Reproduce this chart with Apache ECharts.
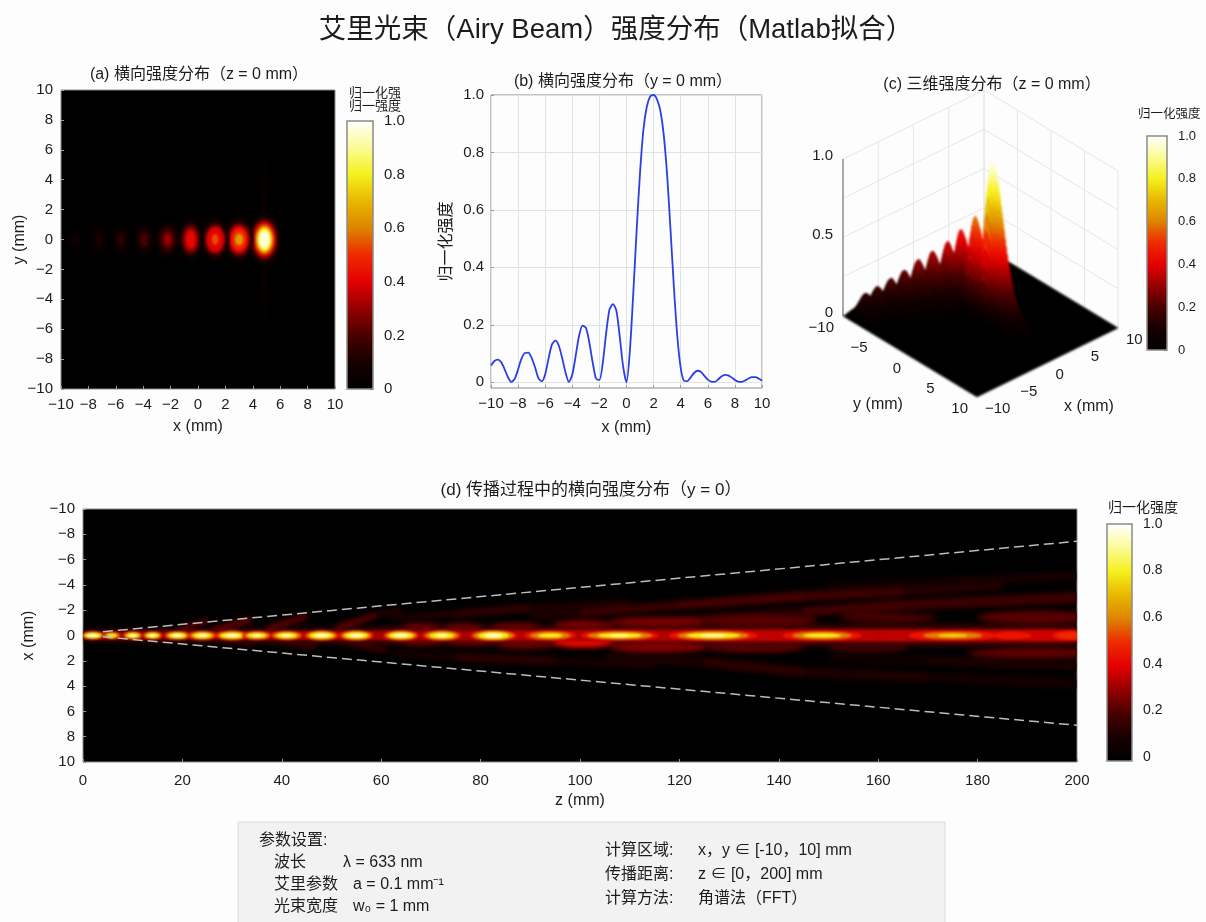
<!DOCTYPE html>
<html><head><meta charset="utf-8">
<style>
html,body{margin:0;padding:0;background:#fdfdfd}
#c{width:1206px;height:922px}
canvas[data-zr-dom-id="zr_1"]{filter:blur(2.5px);clip-path:path('M83 509H1077V762H83Z')}
canvas[data-zr-dom-id="zr_2"]{filter:blur(1.2px);clip-path:path('M61 90H335V389H61Z M83 509H1077V762H83Z M800 90H1140V410H800Z')}
</style>
<script src="https://cdn.jsdelivr.net/npm/echarts@6/dist/echarts.min.js"></script>
</head><body><div id="c"></div>
<script>
// ---------- text ----------
const mainTitle='艾里光束（Airy Beam）强度分布（Matlab拟合）';
const titleA='(a) 横向强度分布（z = 0 mm）';
const titleB='(b) 横向强度分布（y = 0 mm）';
const titleC='(c) 三维强度分布（z = 0 mm）';
const titleD='(d) 传播过程中的横向强度分布（y = 0）';
const intensityName='归一化强度';
// ---------- colour scale ----------
const heatStops=['#000000','#170000','#480000','#960000','#e40000','#ef2a00','#dd8400','#e8b800','#f5f01e','#fbfb96','#ffffff'];
const barTicks=[0,0.2,0.4,0.6,0.8,1];
// ---------- (a) contours of each spot: x, [[level, rx, ry]...] ----------
const aSpots=[
[4.85,[[0.025,0.25,6.5],[0.05,1.18,1.8],[0.15,1.04,1.5],[0.3,0.9,1.28],[0.45,0.77,1.1],[0.6,0.65,0.95],[0.8,0.52,0.78],[0.97,0.38,0.6]]],
[3.0,[[0.02,0.25,3.5],[0.05,1.08,1.6],[0.15,0.93,1.26],[0.3,0.78,1.02],[0.4,0.67,0.88],[0.5,0.53,0.7],[0.64,0.3,0.38]]],
[1.25,[[0.05,1.03,1.5],[0.15,0.88,1.18],[0.3,0.72,0.96],[0.4,0.6,0.8],[0.54,0.24,0.36]]],
[-0.53,[[0.03,0.98,1.5],[0.1,0.83,1.22],[0.2,0.68,1.02],[0.3,0.54,0.84],[0.42,0.35,0.6]]],
[-2.22,[[0.05,0.83,1.25],[0.12,0.67,0.96],[0.2,0.5,0.7],[0.3,0.28,0.38]]],
[-3.93,[[0.04,0.75,1.15],[0.1,0.54,0.8],[0.19,0.32,0.46]]],
[-5.63,[[0.03,0.7,1.12],[0.08,0.48,0.74],[0.14,0.27,0.38]]],
[-7.25,[[0.025,0.66,1.12],[0.06,0.44,0.72],[0.1,0.24,0.35]]],
[-8.95,[[0.03,0.44,0.78],[0.06,0.24,0.38]]]];
// ---------- (b) profile at y = 0 ----------
const bX=[-10,-9.75,-9.5,-9.25,-9,-8.75,-8.5,-8.25,-8,-7.75,-7.5,-7.25,-7,-6.75,-6.5,-6.25,-6,-5.75,-5.5,-5.25,-5,-4.75,-4.5,-4.25,-4,-3.75,-3.5,-3.25,-3,-2.75,-2.5,-2.25,-2,-1.75,-1.5,-1.25,-1,-0.75,-0.5,-0.25,0,0.25,0.5,0.75,1,1.25,1.5,1.75,2,2.25,2.5,2.75,3,3.25,3.5,3.75,4,4.25,4.5,4.75,5,5.25,5.5,5.75,6,6.25,6.5,6.75,7,7.25,7.5,7.75,8,8.25,8.5,8.75,9,9.25,9.5,9.75,10];
const bI=[0.058,0.074,0.079,0.07,0.046,0.018,0.001,0.012,0.045,0.082,0.102,0.103,0.085,0.052,0.014,0.003,0.028,0.083,0.132,0.145,0.128,0.085,0.034,0.001,0.027,0.092,0.162,0.197,0.19,0.14,0.07,0.013,0.008,0.067,0.172,0.254,0.272,0.25,0.16,0.055,0,0.11,0.31,0.53,0.73,0.88,0.96,0.995,1,0.985,0.945,0.86,0.72,0.53,0.33,0.16,0.05,0.005,0.004,0.018,0.033,0.04,0.036,0.022,0.009,0.002,0.001,0.009,0.02,0.026,0.024,0.017,0.008,0.002,0.001,0.006,0.013,0.018,0.018,0.013,0.005];
// ---------- (c) ridges read from the surface ----------
const cRidgeX=[1.6,1,1,0,-1.4,-2.8,-4.2,-5.6,-7,-8.4];
const cRidgeY=[0.15,-1.8,-3.92,-4.85,-5.62,-6.28,-6.9,-7.42,-7.93,-8.2];
const cRidgeZ=[1,0.61,0.47,0.39,0.34,0.3,0.245,0.21,0.174,0.155];
const cRidgeWide=[1.25,1,1,1,1,1,1,1,1,1];
const cPeakD=[0,0.5,1,1.5,2.5,4,6,9,14];
const cPeakF=[1,0.9,0.72,0.52,0.25,0.08,0.03,0.012,0];
const cFinD=[0,0.5,1,1.5,2.5,4,6,9];
const cFinF=[1,0.9,0.68,0.46,0.2,0.07,0.02,0];
const cBackD=[0,0.25,0.5,1,1.5,2,2.5];
const cBackF=[1,0.96,0.82,0.46,0.16,0.03,0];
const cCrossD=[0,0.2,0.4,0.6,0.9,1.2,1.5,1.8];
const cCrossF=[1,0.96,0.85,0.68,0.38,0.15,0.04,0];
const cXTicks=[-10,-5,0,5,10];
const cYTicks=[-10,-5,0,5,10];
const cZTicks=[0,0.5,1];
const cZGrid=[0,0.25,0.5,0.75,1];
// ---------- (d) guide lines: z, x ----------
const dGuideTop=[[4,-0.3],[200,-7.45]];
const dGuideBottom=[[4,0.1],[200,7.1]];
// (d) axis spots: z, x, [[level, halfLen, halfWidth]...]
const dSpots=[
[2,0,[[0.45,2.2,0.33],[0.6,2,0.29],[0.8,1.7,0.22],[0.95,1.2,0.13]]],
[5.8,0,[[0.45,1.8,0.3],[0.6,1.5,0.25],[0.8,1,0.16]]],
[10,0,[[0.45,2,0.33],[0.6,1.7,0.28],[0.8,1.3,0.2],[0.95,0.7,0.1]]],
[14,0,[[0.45,2,0.33],[0.6,1.7,0.28],[0.8,1.3,0.2],[0.95,0.7,0.1]]],
[19,0,[[0.45,2.7,0.36],[0.6,2.3,0.3],[0.8,1.8,0.22],[0.95,1.1,0.12]]],
[24,0,[[0.45,3,0.38],[0.6,2.5,0.32],[0.8,1.9,0.22],[0.95,1,0.11]]],
[30,0,[[0.45,3.4,0.4],[0.6,2.9,0.33],[0.8,2.4,0.24],[0.95,1.4,0.12]]],
[35,0,[[0.45,3,0.38],[0.6,2.5,0.3],[0.8,1.9,0.2],[0.95,0.9,0.1]]],
[41,0,[[0.45,3.3,0.38],[0.6,2.8,0.32],[0.8,2.1,0.22],[0.95,1.1,0.1]]],
[48,0,[[0.45,3.5,0.42],[0.6,3,0.35],[0.8,2.4,0.25],[0.95,1.5,0.13]]],
[55,0,[[0.45,3.5,0.42],[0.6,3,0.35],[0.8,2.4,0.25],[0.95,1.4,0.13]]],
[64,0,[[0.45,3.6,0.42],[0.6,3.1,0.35],[0.8,2.5,0.25],[0.95,1.5,0.13]]],
[72.2,0,[[0.45,4,0.42],[0.6,3.3,0.35],[0.8,2.5,0.24],[0.95,1.2,0.1]]],
[82.6,0,[[0.45,4.8,0.44],[0.6,4.1,0.38],[0.8,3.1,0.28],[0.95,1.8,0.16]]],
[94,0,[[0.45,5.2,0.4],[0.6,4.1,0.3],[0.8,2.5,0.17]]],
[108,0,[[0.45,7.8,0.4],[0.6,6.5,0.31],[0.8,4.5,0.2],[0.9,2,0.1]]],
[126.8,0,[[0.45,9,0.42],[0.6,7.2,0.34],[0.8,5.5,0.22],[0.95,2.5,0.09]]],
[148.7,0,[[0.45,8,0.4],[0.6,6,0.3],[0.8,3.8,0.17]]],
[175,0,[[0.45,9,0.4],[0.6,6,0.27],[0.75,3,0.13]]],
[187,0,[[0.45,4,0.32]]],
[199,0,[[0.45,4,0.38],[0.5,3,0.26]]]];
// (d) continuous core along the axis: z, x, halfWidth, value
const dCore=[[0,0,0.3,0.28],[40,0,0.34,0.3],[80,0,0.4,0.33],[100,0,0.44,0.35],[130,0,0.46,0.32],[160,0,0.46,0.38],[190,0,0.46,0.32],[200,0,0.46,0.42]];
// (d) soft blobs beside the beam: z, x, halfLen, halfWidth, value
const dBlobs=[[68,-0.7,4,0.28,0.24],[76.5,-0.7,4,0.28,0.24],[87,-0.75,5,0.28,0.24],[100.7,-0.9,6,0.33,0.26],[116,-1.1,10,0.38,0.26],[136,-1.2,12,0.42,0.22],[162,-1.4,10,0.38,0.2],[192,-1.45,12,0.5,0.22],[68,0.55,4,0.28,0.24],[78,0.55,5,0.28,0.24],[89,0.75,6,0.33,0.24],[100.5,0.55,6,0.42,0.42],[116,0.95,10,0.38,0.28],[135,0.95,10,0.42,0.22],[158,1,8,0.33,0.18],[192,1.4,14,0.4,0.23]];
// (d) faint streaks: nodes z, x, halfWidth, value
const dStreaks=[
[[0,0,0.5,0.1],[60,0,0.72,0.18],[120,0,0.85,0.18],[200,0,0.85,0.18]],
[[62,-1.4,0.22,0.07],[75,-1.7,0.28,0.17],[90,-2.2,0.28,0.15],[110,-2.6,0.28,0.07]],
[[90,-1.5,0.28,0.07],[100,-1.75,0.28,0.16],[120,-2.4,0.33,0.19],[145,-3.1,0.38,0.2],[165,-3.5,0.38,0.16],[185,-4,0.33,0.1]],
[[120,-1.3,0.28,0.08],[145,-1.9,0.33,0.19],[165,-2.4,0.38,0.19],[200,-3,0.42,0.16]],
[[150,-3.9,0.32,0.05],[175,-4.3,0.32,0.1],[200,-4.7,0.32,0.1]],
[[62,1.4,0.22,0.05],[75,1.7,0.33,0.15],[95,2,0.33,0.13],[115,2.4,0.33,0.05]],
[[105,1.7,0.33,0.07],[125,2.1,0.38,0.15],[145,2.9,0.38,0.13],[170,3.3,0.38,0.1],[200,3.8,0.38,0.07]],
[[150,1.8,0.33,0.05],[170,2,0.33,0.1],[200,2.4,0.33,0.12]],
[[19.5,-0.5,0.2,0.3],[25,-1.2,0.17,0.16]],
[[26,-0.4,0.22,0.32],[34,-1.3,0.18,0.16]],
[[37,-0.53,0.24,0.3],[45,-1.5,0.2,0.16]],
[[51,-0.6,0.24,0.3],[59,-1.6,0.2,0.16],[64,-2.1,0.18,0.1]],
[[26,0.3,0.2,0.2],[34,0.72,0.17,0.11]],
[[37,0.35,0.22,0.22],[47,0.93,0.18,0.13]],
[[51,0.35,0.24,0.22],[61,1.2,0.2,0.13]]];
// ---------- (e) parameter box ----------
const paramHead='参数设置:';
const paramNames=['波长','艾里参数','光束宽度'];
const paramVals=['λ = 633 nm','a = 0.1 mm⁻¹','w₀ = 1 mm'];
const calcNames=['计算区域:','传播距离:','计算方法:'];
const calcVals=['x，y ∈ [-10，10] mm','z ∈ [0，200] mm','角谱法（FFT）'];

// ---------- helpers ----------
const FONT='"Liberation Sans","Noto Sans CJK SC",sans-serif';
const INK='#1c1c1c';
const fmt=v=>String(v).replace('-','−');
const barFmt=v=>v===0?'0':v.toFixed(1);
function look(ds,fs,d){for(let i=1;i<ds.length;i++){if(d<=ds[i]){const t=(d-ds[i-1])/(ds[i]-ds[i-1]);return fs[i-1]+t*(fs[i]-fs[i-1]);}}return 0;}
function ellipseItem(p,api){const c=api.coord([api.value(1),api.value(2)]),s=api.size([api.value(3),api.value(4)]);
  return {type:'ellipse',shape:{cx:c[0],cy:c[1],rx:s[0],ry:s[1]},style:{fill:api.visual('color')}};}
function ribbonItem(p,api){const a=api.coord([api.value(1),api.value(2)-api.value(3)]),b=api.coord([api.value(4),api.value(5)-api.value(6)]),
  c=api.coord([api.value(4),api.value(5)+api.value(6)]),d=api.coord([api.value(1),api.value(2)+api.value(3)]);
  const col=api.visual('color');return {type:'polygon',shape:{points:[a,b,c,d]},style:{fill:col,stroke:col,lineWidth:0.5}};}
const spotRows=s=>s.flatMap(r=>r[r.length-1].map(l=>[l[0],r[0],r.length===3?r[1]:0,l[1],l[2]]));
const ribbonRows=ps=>ps.flatMap(p=>p.slice(1).map((n,i)=>[(p[i][3]+n[3])/2,p[i][0],p[i][1],p[i][2],n[0],n[1],n[2]]));
// (c) oblique projection of the box onto its plot plane
function project(x,y,z){return [(x+10)*7.05+(y+10)*6.7,223-(x+10)*3.45+(y+10)*4.05-z*157];}
function cHeight(x,y){let m=0;cRidgeX.forEach((rx,i)=>{const dy=y-cRidgeY[i];
  const along=dy>=0?(i<2?look(cPeakD,cPeakF,dy):look(cFinD,cFinF,dy)):look(cBackD,cBackF,-dy);
  const v=cRidgeZ[i]*along*look(cCrossD,cCrossF,Math.abs(x-rx)/cRidgeWide[i]);if(v>m)m=v;});return m;}
const cells=[[0,-10,-10,20,20,0,0,0,0]];
(function(){const n=140,st=20/n,tmp=[];
  for(let i=0;i<n;i++)for(let j=0;j<n;j++){const x=-10+i*st,y=-10+j*st,a=cHeight(x,y),b=cHeight(x+st,y),c=cHeight(x+st,y+st),d=cHeight(x,y+st);
    const avg=(a+b+c+d)/4;if(avg>0.003)tmp.push([avg,x,y,st,st,a,b,c,d]);}
  tmp.sort((p,q)=>(p[2]-p[1])-(q[2]-q[1]));tmp.forEach(r=>cells.push(r));})();
function cellItem(p,api){const x=api.value(1),y=api.value(2),w=api.value(3),h=api.value(4);
  const pts=[[x,y,api.value(5)],[x+w,y,api.value(6)],[x+w,y+h,api.value(7)],[x,y+h,api.value(8)]].map(q=>api.coord(project(q[0],q[1],q[2])));
  const col=api.visual('color');return {type:'polygon',shape:{points:pts},style:{fill:col,stroke:col,lineWidth:0.5}};}
// (c) walls and axis lines: x1,y1,z1,x2,y2,z2
const wallRows=[];
cZGrid.forEach(z=>{wallRows.push([-10,-10,z,10,-10,z]);wallRows.push([10,-10,z,10,10,z]);});
cXTicks.forEach(x=>wallRows.push([x,-10,0,x,-10,1]));
cYTicks.forEach(y=>wallRows.push([10,y,0,10,y,1]));
function wallItem(p,api){const a=api.coord(project(api.value(0),api.value(1),api.value(2))),b=api.coord(project(api.value(3),api.value(4),api.value(5)));
  return {type:'line',shape:{x1:a[0],y1:a[1],x2:b[0],y2:b[1]},style:{stroke:'#e6e6e6',lineWidth:1}};}
const frameRows=[[-10,-10,0,-10,-10,1]];
function frameItem(p,api){const a=api.coord(project(api.value(0),api.value(1),api.value(2))),b=api.coord(project(api.value(3),api.value(4),api.value(5)));
  return {type:'line',shape:{x1:a[0],y1:a[1],x2:b[0],y2:b[1]},style:{stroke:'#777',lineWidth:1.2}};}
const cLabels=[];
cYTicks.forEach(y=>cLabels.push({t:fmt(y),p:[-10,y,0],ox:-9,oy:12,al:'right'}));
cXTicks.forEach(x=>cLabels.push({t:fmt(x),p:[x,10,0],ox:8,oy:12,al:'left'}));
cZTicks.forEach(z=>cLabels.push({t:z===1?'1.0':String(z),p:[-10,-10,z],ox:-10,oy:-3,al:'right'}));
function cLabelItem(p,api){const l=cLabels[api.value(0)],c=api.coord(project(l.p[0],l.p[1],l.p[2]));
  return {type:'text',x:c[0]+l.ox,y:c[1]+l.oy,style:{text:l.t,fill:INK,font:'15px '+FONT,textAlign:l.al,textVerticalAlign:'middle'}};}

const tickLabel={color:INK,fontSize:15,fontFamily:FONT};
const nameStyle={color:INK,fontSize:16,fontFamily:FONT};
const inTick={show:true,inside:true,length:3,lineStyle:{color:'#999'}};
function plotAxis(o){return Object.assign({type:'value',axisLine:{show:false,onZero:false},axisTick:inTick,splitLine:{show:false},axisLabel:Object.assign({margin:8,formatter:fmt,hideOverlap:false,showMinLabel:true,showMaxLabel:true},tickLabel),nameLocation:'middle',nameMoveOverlap:false,nameTextStyle:nameStyle},o);}
function hidden(i,min,max,extra){return Object.assign({type:'value',gridIndex:i,show:false,min:min,max:max},extra||{});}
function barAxis(i,size,margin,opts){return Object.assign({type:'value',gridIndex:i,position:'right',min:0,max:1,axisLine:{show:false,onZero:false},
  axisTick:{show:true,inside:true,length:3,lineStyle:{color:'#444'},customValues:barTicks},splitLine:{show:false},
  axisLabel:{color:INK,fontSize:size,fontFamily:FONT,margin:margin,customValues:barTicks,formatter:barFmt}},opts||{});}
const bStyle={show:true,borderColor:'#8a8a8a',borderWidth:1,backgroundColor:'#000'};
function barGrid(l,t,w,h){return {left:l,top:t,width:w,height:h,show:true,borderColor:'#8a8a8a',borderWidth:1.5,backgroundColor:'transparent',zlevel:3,z:6};}
function vm(series,l,t,w,h){return {type:'continuous',seriesIndex:series,dimension:0,min:0,max:1,left:l,top:t,itemWidth:w,itemHeight:h,padding:0,text:null,calculable:false,hoverLink:false,inRange:{color:heatStops},z:4};}
function sub(text,center,top,size){return {text:text,left:center,top:top,textAlign:'center',padding:0,textStyle:{fontSize:size||16,fontWeight:'normal',color:INK,fontFamily:FONT}};}
function tx(text,x,y,size,extra){return Object.assign({type:'text',x:x,y:y,silent:true,style:Object.assign({text:text,fill:INK,font:size+'px '+FONT,textVerticalAlign:'middle'},extra||{})});}

const boxTexts=[tx(paramHead,259,841,16)];
paramNames.forEach((n,i)=>{boxTexts.push(tx(n,274,863+22*i,16));boxTexts.push(tx(paramVals[i],i===0?343:353,863+22*i,16));});
calcNames.forEach((n,i)=>{boxTexts.push(tx(n,605,851+24*i,16));boxTexts.push(tx(calcVals[i],698,851+24*i,16));});

const option={
  animation:false,backgroundColor:'#fdfdfd',textStyle:{fontFamily:FONT},
  title:[{text:mainTitle,left:616,top:17,textAlign:'center',padding:0,textStyle:{fontSize:27.5,fontWeight:'normal',color:INK,fontFamily:FONT}},
    sub(titleA,199,67),sub(titleB,623,74),sub(titleC,992,77),sub(titleD,591,482,17)],
  grid:[
    Object.assign({left:61,top:90,width:274,height:299},bStyle),
    {left:491,top:95,width:271,height:293,show:true,borderColor:'#8a8a8a',borderWidth:1,backgroundColor:'transparent'},
    {left:843,top:88,width:275,height:309},
    Object.assign({left:83,top:509,width:994,height:253},bStyle),
    barGrid(347,121,26,268),barGrid(1147,136,20,214),barGrid(1107,524,25,237)],
  xAxis:[
    plotAxis({gridIndex:0,min:-10,max:10,interval:2,name:'x (mm)',nameGap:30}),
    plotAxis({gridIndex:1,min:-10,max:10,interval:2,name:'x (mm)',nameGap:32,splitLine:{show:true,lineStyle:{color:'#e2e2e2'}}}),
    hidden(2,0,275),
    plotAxis({gridIndex:3,min:0,max:200,interval:20,name:'z (mm)',nameGap:31,axisLabel:Object.assign({margin:11,formatter:fmt,showMinLabel:true,showMaxLabel:true},tickLabel)}),
    hidden(4,0,1),hidden(5,0,1),hidden(6,0,1)],
  yAxis:[
    plotAxis({gridIndex:0,min:-10,max:10,interval:2,name:'y (mm)',nameGap:33}),
    plotAxis({gridIndex:1,min:-0.02,max:1,name:intensityName,nameGap:36,
      axisTick:Object.assign({},inTick,{customValues:[0,0.2,0.4,0.6,0.8,1]}),
      splitLine:{show:true,lineStyle:{color:'#e2e2e2'}},
      axisLabel:Object.assign({margin:7,customValues:[0,0.2,0.4,0.6,0.8,1],formatter:barFmt},tickLabel)}),
    hidden(2,-5,304,{inverse:true}),
    plotAxis({gridIndex:3,min:-10,max:10,interval:2,inverse:true,name:'x (mm)',nameGap:46}),
    barAxis(4,15,11),barAxis(5,13,11),
    barAxis(6,14,11,{min:-0.017,max:1})],
  visualMap:[vm([0],347,121,26,268),vm([4],1147,136,20,214),vm([6,7,8,9],1107,524,25,237)],
  series:[
    {type:'custom',name:'(a)',xAxisIndex:0,yAxisIndex:0,coordinateSystem:'cartesian2d',zlevel:2,silent:true,clip:false,progressive:0,encode:{x:1,y:2},renderItem:ellipseItem,
      data:spotRows(aSpots.map(s=>[s[0],0,s[1]]))},
    {type:'line',name:'(b)',xAxisIndex:1,yAxisIndex:1,data:bX.map((x,i)=>[x,bI[i]]),symbol:'none',smooth:0.25,silent:true,lineStyle:{color:'#2a3fe6',width:1.8}},
    {type:'custom',name:'walls',xAxisIndex:2,yAxisIndex:2,coordinateSystem:'cartesian2d',silent:true,clip:false,renderItem:wallItem,data:wallRows,encode:{x:0,y:1}},
    {type:'custom',name:'frame',xAxisIndex:2,yAxisIndex:2,coordinateSystem:'cartesian2d',silent:true,clip:false,renderItem:frameItem,data:frameRows,encode:{x:0,y:1}},
    {type:'custom',name:'(c)',xAxisIndex:2,yAxisIndex:2,coordinateSystem:'cartesian2d',zlevel:2,silent:true,clip:false,progressive:0,renderItem:cellItem,data:cells,encode:{x:1,y:2}},
    {type:'custom',name:'c labels',xAxisIndex:2,yAxisIndex:2,coordinateSystem:'cartesian2d',silent:true,clip:false,renderItem:cLabelItem,data:cLabels.map((l,i)=>[i]),encode:{x:0}},
    {type:'custom',name:'(d) streaks',xAxisIndex:3,yAxisIndex:3,coordinateSystem:'cartesian2d',zlevel:1,silent:true,clip:false,progressive:0,renderItem:ribbonItem,data:ribbonRows(dStreaks),encode:{x:1,y:2}},
    {type:'custom',name:'(d) blobs',xAxisIndex:3,yAxisIndex:3,coordinateSystem:'cartesian2d',zlevel:1,silent:true,clip:false,progressive:0,renderItem:ellipseItem,data:dBlobs.map(b=>[b[4],b[0],b[1],b[2],b[3]]),encode:{x:1,y:2}},
    {type:'custom',name:'(d) core',xAxisIndex:3,yAxisIndex:3,coordinateSystem:'cartesian2d',zlevel:2,silent:true,clip:false,progressive:0,renderItem:ribbonItem,data:ribbonRows([dCore]),encode:{x:1,y:2}},
    {type:'custom',name:'(d) spots',xAxisIndex:3,yAxisIndex:3,coordinateSystem:'cartesian2d',zlevel:2,silent:true,clip:false,progressive:0,renderItem:ellipseItem,data:spotRows(dSpots),encode:{x:1,y:2}},
    {type:'line',name:'guide top',xAxisIndex:3,yAxisIndex:3,zlevel:3,data:dGuideTop,symbol:'none',silent:true,lineStyle:{color:'#bdbdbd',width:1.5,type:[10,5]}},
    {type:'line',name:'guide bottom',xAxisIndex:3,yAxisIndex:3,zlevel:3,data:dGuideBottom,symbol:'none',silent:true,lineStyle:{color:'#bdbdbd',width:1.5,type:[10,5]}}
  ],
  graphic:{elements:[
    {type:'rect',shape:{x:238,y:822,width:707,height:110},silent:true,style:{fill:'#f2f2f2',stroke:'#dcdcdc',lineWidth:1}},
    ...boxTexts,
    tx('归一化强',349,93,13),tx('归一强度',349,106,13),
    tx(intensityName,1138,115,12.5),tx(intensityName,1108,508,14),
    tx(intensityName,792,230,16,{textAlign:'center'}),
    tx('y (mm)',878,405,16,{textAlign:'center'}),tx('x (mm)',1089,407,16,{textAlign:'center'})
  ]}
};
// rotated name of panel (c)
const cName=option.graphic.elements.find(e=>e.x===792&&e.y===230);
cName.originX=792;cName.originY=230;cName.rotation=Math.PI/2;
const chart=echarts.init(document.getElementById('c'),null,{renderer:'canvas'});
chart.setOption(option);
</script></body></html>
